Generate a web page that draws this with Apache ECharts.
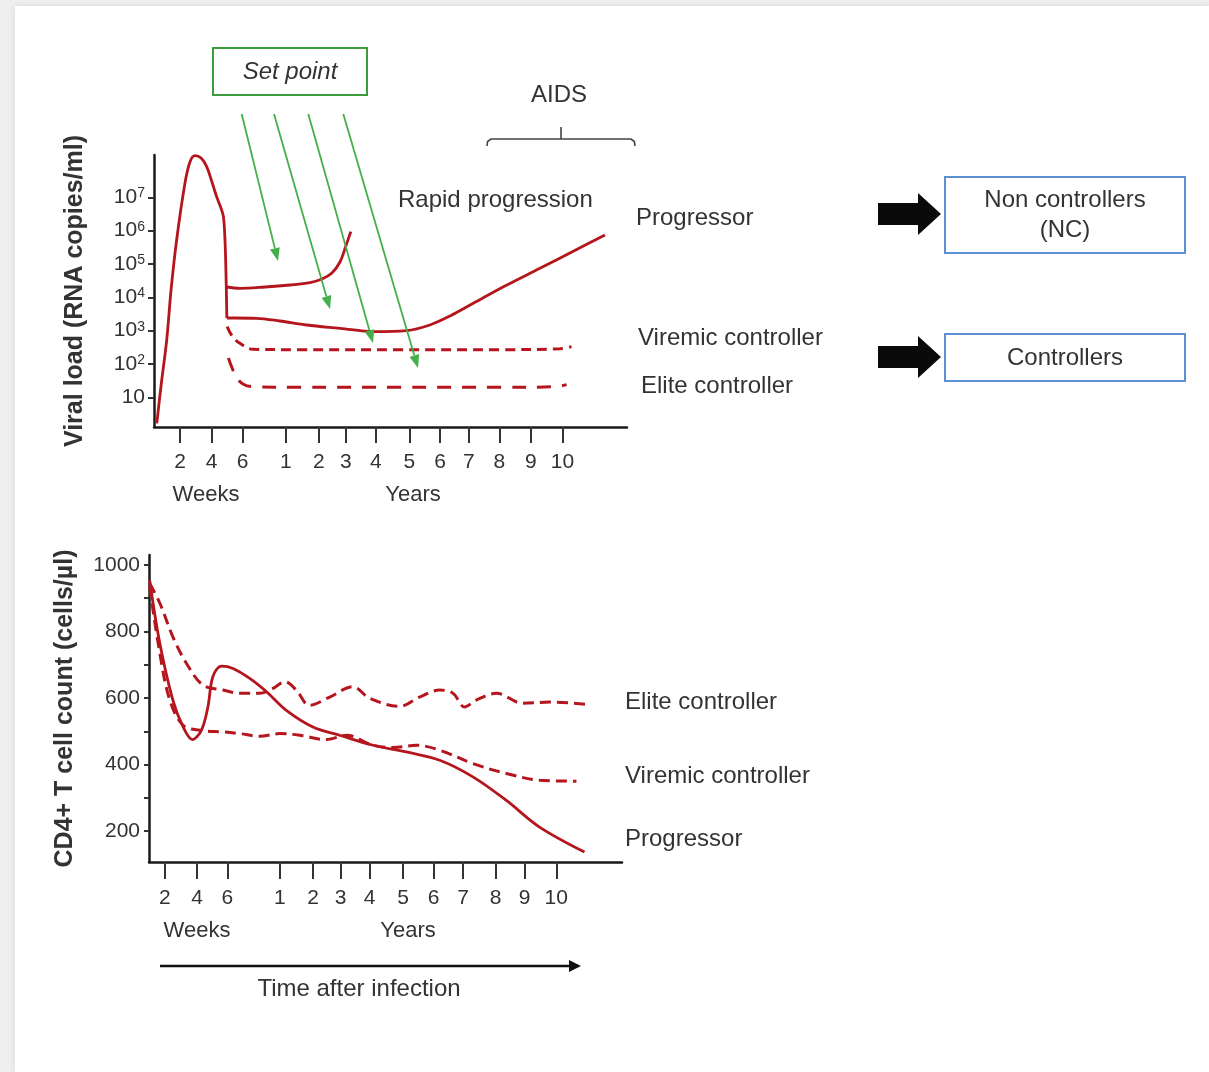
<!DOCTYPE html>
<html><head><meta charset="utf-8">
<script src="https://cdn.jsdelivr.net/npm/echarts@6/dist/echarts.min.js"></script>
<style>
html,body{margin:0;padding:0;background:#efefef;width:1209px;height:1072px;overflow:hidden;}
#card{position:absolute;left:15px;top:6px;width:1194px;height:1066px;background:#fff;box-shadow:0 0 6px rgba(0,0,0,0.10);}
#chart{position:absolute;left:0;top:0;width:1209px;height:1072px;}
</style></head><body><div id="card"></div><div id="chart"></div>
<script>
// ---------- axis ticks ----------
const tickLabels = ['2','4','6','1','2','3','4','5','6','7','8','9','10'];
const topTickPos = [0.84,1.86,2.86,4.25,5.32,6.19,7.16,8.24,9.23,10.16,11.14,12.16,13.18];
const botTickPos = [0.51,1.55,2.53,4.22,5.29,6.18,7.12,8.2,9.18,10.13,11.18,12.12,13.14];
const vlTickExp = [1,2,3,4,5,6,7];           // log10 viral load ticks
const cd4TickVals = [200,300,400,500,600,700,800,900,1000];
const cd4LabelVals = [200,400,600,800,1000];

// ---------- viral load (log10 copies/ml) ----------
const acuteX = [0.09,0.23,0.41,0.55,0.73,1.0,1.16,1.32,1.52,1.70,1.87,2.02,2.16,2.24,2.29,2.32,2.34,2.35];
const acuteY = [0.22,1.37,2.72,4.22,5.72,7.43,8.06,8.25,8.18,7.92,7.46,7.02,6.68,6.42,5.72,4.82,3.92,3.38];
const rapidX = [2.34,2.77,3.58,4.39,5.03,5.42,5.74,6.0,6.19,6.35];
const rapidY = [4.31,4.27,4.31,4.37,4.44,4.55,4.73,5.06,5.54,5.97];
const vlProgX = [2.35,2.61,3.31,4.06,4.93,6.0,7.08,8.15,8.9,9.55,10.3,11.32,12.45,13.48,14.55];
const vlProgY = [3.38,3.38,3.37,3.29,3.17,3.07,2.97,3.0,3.17,3.44,3.82,4.34,4.87,5.36,5.87];
const vlViremicX = [2.36,2.52,2.77,3.2,4.71,7.94,11.16,13.1,13.47];
const vlViremicY = [3.12,2.84,2.62,2.44,2.43,2.43,2.43,2.46,2.52];
const vlEliteX = [2.40,2.52,2.67,2.87,3.16,4.71,7.94,11.16,12.94,13.31];
const vlEliteY = [2.18,1.88,1.58,1.40,1.32,1.30,1.30,1.30,1.32,1.38];

// ---------- CD4+ T cell count (cells/µl) ----------
const cdProgX = [0.02,0.35,0.77,1.10,1.40,1.69,1.90,2.06,2.34,2.71,3.25,3.79,4.43,5.29,6.15,7.23,8.30,9.38,10.45,11.53,12.60,14.05];
const cdProgY = [955,764,594,513,475,503,573,664,696,689,659,619,563,513,488,458,438,413,363,292,212,137];
const cdEliteX = [0.02,0.35,0.77,1.21,1.74,2.39,2.93,3.57,4.0,4.38,4.75,5.18,5.83,6.58,7.12,8.09,8.73,9.38,9.81,10.18,10.56,11.21,12.06,12.93,14.11];
const cdEliteY = [945,885,784,704,639,624,614,614,629,649,624,578,603,634,599,575,603,624,614,573,594,614,584,588,581];
const cdViremicX = [0.02,0.35,0.67,1.10,1.64,2.39,2.93,3.57,4.22,4.86,5.72,6.37,7.23,7.87,8.63,9.38,10.45,11.53,12.60,13.79];
const cdViremicY = [935,734,594,518,503,498,493,485,493,488,475,488,458,451,458,443,403,373,353,350];

const zip = (xs, ys) => xs.map((x, i) => [x, ys[i]]);
const RED = '#b5151d';
const TXT = '#333333';
const FONT = '"Liberation Sans", Arial, sans-serif';

function nearestLabel(pos, v) {
  let bi = 0, bd = Infinity;
  pos.forEach((p, i) => { const d = Math.abs(p - v); if (d < bd) { bd = d; bi = i; } });
  return tickLabels[bi];
}

function xAxisFor(gridIndex, pos, tickLen, margin) {
  return {
    type: 'value', gridIndex, min: 0, max: 15.26,
    axisLine: { show: true, lineStyle: { color: '#1a1a1a', width: 2.5 } },
    axisTick: { show: true, customValues: pos, length: tickLen, lineStyle: { color: '#333', width: 2 } },
    axisLabel: { show: true, customValues: pos, margin, color: TXT, fontSize: 21, fontFamily: FONT,
      formatter: v => nearestLabel(pos, v) },
    splitLine: { show: false }
  };
}

function solid(name, xi, yi, data) {
  return { name, type: 'line', xAxisIndex: xi, yAxisIndex: yi, data, showSymbol: false, smooth: 0.35,
    clip: false, lineStyle: { color: RED, width: 2.8 }, itemStyle: { color: RED }, z: 3 };
}
function dashed(name, xi, yi, data, dash) {
  return { name, type: 'line', xAxisIndex: xi, yAxisIndex: yi, data, showSymbol: false, smooth: 0.35,
    clip: false, lineStyle: { color: RED, width: 3, type: dash }, itemStyle: { color: RED }, z: 3 };
}

function arrow(x1, y1, x2, y2, color, w, hl, hw) {
  const dx = x2 - x1, dy = y2 - y1, L = Math.hypot(dx, dy);
  const ux = dx / L, uy = dy / L, nx = -uy, ny = ux;
  const bx = x2 - ux * hl, by = y2 - uy * hl;
  return [
    { type: 'line', shape: { x1, y1, x2: bx, y2: by }, style: { stroke: color, lineWidth: w }, z: 10 },
    { type: 'polygon', shape: { points: [[x2, y2], [bx + nx * hw / 2, by + ny * hw / 2], [bx - nx * hw / 2, by - ny * hw / 2]] },
      style: { fill: color }, z: 10 }
  ];
}
function txt(text, x, y, opts) {
  opts = opts || {};
  return { type: 'text', z: 20, style: Object.assign({ text, x, y, fill: TXT,
    font: (opts.style || '') + ' ' + (opts.size || 24) + 'px ' + FONT,
    textAlign: opts.align || 'left', align: opts.align || 'left',
    textVerticalAlign: 'middle', verticalAlign: 'middle' }, opts.extra || {}) };
}
function blockArrow(tipX, cy) {
  return { type: 'polygon', z: 10, shape: { points: [
    [878, cy - 11], [918, cy - 11], [918, cy - 21], [tipX, cy], [918, cy + 21], [918, cy + 11], [878, cy + 11]
  ] }, style: { fill: '#0a0a0a' } };
}

const GREEN = '#43b04a';
let graphics = [];
// Set point box
graphics.push({ type: 'rect', z: 10, shape: { x: 213, y: 48, width: 154, height: 47 },
  style: { fill: '#fff', stroke: '#3c9c3c', lineWidth: 2 } });
graphics.push(txt('Set point', 290, 72, { style: 'italic', align: 'center' }));
// green arrows
graphics = graphics.concat(
  arrow(241.7, 114, 278, 261, GREEN, 1.8, 13, 10),
  arrow(274, 114, 330, 309, GREEN, 1.8, 13, 10),
  arrow(308.3, 114, 373, 343, GREEN, 1.8, 13, 10),
  arrow(343.3, 114, 418, 368, GREEN, 1.8, 13, 10)
);
// AIDS bracket
graphics.push(txt('AIDS', 559, 95, { align: 'center' }));
graphics.push({ type: 'polyline', z: 10, shape: { points: [[487,146],[487.6,141.5],[491,139],[631,139],[634.4,141.5],[635,146]] },
  style: { fill: 'none', stroke: '#444', lineWidth: 1.6 } });
graphics.push({ type: 'line', z: 10, shape: { x1: 561, y1: 139, x2: 561, y2: 127 }, style: { stroke: '#444', lineWidth: 1.6 } });
// curve labels
graphics.push(txt('Rapid progression', 398, 200));
graphics.push(txt('Progressor', 636, 218));
graphics.push(txt('Viremic controller', 638, 338));
graphics.push(txt('Elite controller', 641, 386));
graphics.push(txt('Elite controller', 625, 702));
graphics.push(txt('Viremic controller', 625, 776));
graphics.push(txt('Progressor', 625, 839));
// Weeks / Years
graphics.push(txt('Weeks', 206, 495, { size: 22, align: 'center' }));
graphics.push(txt('Years', 413, 495, { size: 22, align: 'center' }));
graphics.push(txt('Weeks', 197, 931, { size: 22, align: 'center' }));
graphics.push(txt('Years', 408, 931, { size: 22, align: 'center' }));
// time arrow
graphics.push({ type: 'line', z: 10, shape: { x1: 160, y1: 966, x2: 572, y2: 966 }, style: { stroke: '#111', lineWidth: 2.5 } });
graphics.push({ type: 'polygon', z: 10, shape: { points: [[569, 960], [581, 966], [569, 972]] }, style: { fill: '#111' } });
graphics.push(txt('Time after infection', 359, 989, { align: 'center' }));
// right side boxes & arrows
graphics.push(blockArrow(941, 214));
graphics.push(blockArrow(941, 357));
graphics.push({ type: 'rect', z: 10, shape: { x: 945, y: 177, width: 240, height: 76 },
  style: { fill: '#fff', stroke: '#5d8fd3', lineWidth: 2 } });
graphics.push(txt('Non controllers', 1065, 200, { align: 'center' }));
graphics.push(txt('(NC)', 1065, 230, { align: 'center' }));
graphics.push({ type: 'rect', z: 10, shape: { x: 945, y: 334, width: 240, height: 47 },
  style: { fill: '#fff', stroke: '#5d8fd3', lineWidth: 2 } });
graphics.push(txt('Controllers', 1065, 358, { align: 'center' }));

const chart = echarts.init(document.getElementById('chart'), null, { renderer: 'canvas' });
chart.setOption({
  animation: false,
  backgroundColor: 'transparent',
  textStyle: { fontFamily: FONT },
  grid: [
    { left: 154, top: 155, width: 473, height: 272, containLabel: false },
    { left: 149, top: 555, width: 473, height: 307, containLabel: false }
  ],
  xAxis: [
    xAxisFor(0, topTickPos, 16, 25),
    xAxisFor(1, botTickPos, 17, 26)
  ],
  yAxis: [
    { type: 'value', gridIndex: 0, min: 0.11, max: 8.27,
      name: 'Viral load (RNA copies/ml)', nameLocation: 'middle', nameRotate: 90, nameGap: 66,
      nameTextStyle: { fontSize: 25, fontWeight: 'bold', color: TXT, fontFamily: FONT },
      axisLine: { show: true, lineStyle: { color: '#1a1a1a', width: 2.5 } },
      axisTick: { show: true, customValues: vlTickExp, length: 6, lineStyle: { color: '#333', width: 2 } },
      axisLabel: { show: true, customValues: vlTickExp, margin: 9, color: TXT,
        formatter: v => v === 1 ? '{b|10}' : '{b|10}{s|' + v + '}',
        rich: { b: { fontSize: 21, fontFamily: FONT, color: TXT, lineHeight: 22 },
                s: { fontSize: 14, fontFamily: FONT, color: TXT, verticalAlign: 'top', lineHeight: 14, padding: [0, 0, 8, 0] } } },
      splitLine: { show: false } },
    { type: 'value', gridIndex: 1, min: 107, max: 1030,
      name: 'CD4+ T cell count (cells/µl)', nameLocation: 'middle', nameRotate: 90, nameGap: 71,
      nameTextStyle: { fontSize: 25, fontWeight: 'bold', color: TXT, fontFamily: FONT },
      axisLine: { show: true, lineStyle: { color: '#1a1a1a', width: 2.5 } },
      axisTick: { show: true, customValues: cd4TickVals, length: 5, lineStyle: { color: '#333', width: 2 } },
      axisLabel: { show: true, customValues: cd4LabelVals, margin: 9, color: TXT, fontSize: 21, fontFamily: FONT,
        formatter: v => String(Math.round(v)) },
      splitLine: { show: false } }
  ],
  series: [
    solid('Acute infection', 0, 0, zip(acuteX, acuteY)),
    solid('Rapid progression', 0, 0, zip(rapidX, rapidY)),
    solid('Progressor', 0, 0, zip(vlProgX, vlProgY)),
    dashed('Viremic controller', 0, 0, zip(vlViremicX, vlViremicY), [10, 6]),
    dashed('Elite controller', 0, 0, zip(vlEliteX, vlEliteY), [14, 11]),
    solid('Progressor CD4', 1, 1, zip(cdProgX, cdProgY)),
    dashed('Elite controller CD4', 1, 1, zip(cdEliteX, cdEliteY), [11, 6]),
    dashed('Viremic controller CD4', 1, 1, zip(cdViremicX, cdViremicY), [11, 6])
  ],
  graphic: graphics
});
</script>
</body></html>
